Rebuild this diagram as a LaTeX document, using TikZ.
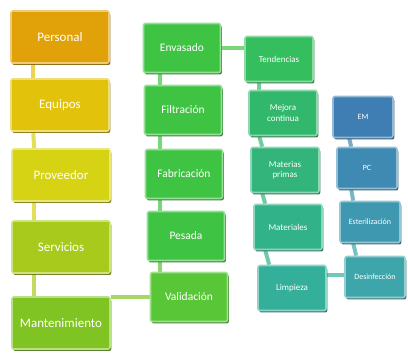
\documentclass[tikz,border=0pt]{standalone}
\usepackage{fontspec}
\setmainfont{Carlito}
\usetikzlibrary{positioning, calc, backgrounds, shadows}
\definecolor{cpersonal}{HTML}{E0A208}
\definecolor{cequipos}{HTML}{E2C20A}
\definecolor{cproveedor}{HTML}{D6D214}
\definecolor{cservicios}{HTML}{A8CA1C}
\definecolor{cmanten}{HTML}{80C424}
\definecolor{cgreen}{HTML}{3EC442}
\definecolor{cvalid}{HTML}{58C636}
\definecolor{cteal}{HTML}{34BE5E}
\definecolor{cmejora}{HTML}{32B86C}
\definecolor{cmaterias}{HTML}{32B47A}
\definecolor{cmateriales}{HTML}{32B288}
\definecolor{climpieza}{HTML}{34B09A}
\definecolor{cem}{HTML}{3E7EB2}
\definecolor{cpc}{HTML}{3E8AB2}
\definecolor{cester}{HTML}{3E98B0}
\definecolor{cdesinf}{HTML}{3EA6AA}

\begin{document}
\begin{tikzpicture}[x=1pt, y=-1pt,
    box/.style={rectangle, rounded corners=2pt, fill=#1, draw=#1!55!white, line width=1.6pt, text=white, align=center, inner sep=1pt,
        drop shadow={shadow xshift=1.3pt, shadow yshift=-2pt, fill=#1!60!black, opacity=0.9}},
    colA/.style={minimum width=98pt, minimum height=52pt, font=\fontsize{13}{15}\selectfont},
    colB/.style={minimum width=77pt, minimum height=49pt, font=\fontsize{11.5}{13}\selectfont},
    colC/.style={minimum width=68pt, minimum height=45pt, font=\fontsize{9}{10.5}\selectfont},
    colD/.style={minimum width=60pt, minimum height=41pt, font=\fontsize{8}{9.5}\selectfont},
    link/.style={line width=4pt, color=#1!70!white}
]
\useasboundingbox (0,0) rectangle (408,358);

% First column
\node[box=cpersonal, colA] (personal) at (60,37) {Personal};
\node[box=cequipos, colA] (equipos) at (60,105) {Equipos};
\node[box=cproveedor, colA] (proveedor) at (61,175) {Proveedor};
\node[box=cservicios, colA] (servicios) at (61,247) {Servicios};
\node[box=cmanten, colA] (manten) at (61,323) {Mantenimiento};

% Second column
\node[box=cgreen, colB] (envasado) at (182,48) {Envasado};
\node[box=cgreen, colB] (filtracion) at (183,110) {Filtración};
\node[box=cgreen, colB] (fabricacion) at (184,174) {Fabricación};
\node[box=cgreen, colB] (pesada) at (186,236) {Pesada};
\node[box=cvalid, colB] (validacion) at (189,297) {Validación};

% Third column
\node[box=cteal, colC] (tendencias) at (279,59) {Tendencias};
\node[box=cmejora, colC] (mejora) at (283,113) {Mejora\\continua};
\node[box=cmaterias, colC] (materias) at (285,170) {Materias\\primas};
\node[box=cmateriales, colC] (materiales) at (288,227) {Materiales};
\node[box=climpieza, colC] (limpieza) at (292,288) {Limpieza};

% Fourth column
\node[box=cem, colD] (em) at (363,117) {EM};
\node[box=cpc, colD] (pc) at (367,168) {PC};
\node[box=cester, colD] (ester) at (370,222) {Esterilización};
\node[box=cdesinf, colD] (desinf) at (375,277) {Desinfección};

% Links
\begin{scope}[on background layer]
\draw[link=cequipos] ([xshift=23pt]personal.south west) -- ([xshift=23pt]equipos.north west);
\draw[link=cproveedor] ([xshift=23pt]equipos.south west) -- ([xshift=23pt]proveedor.north west);
\draw[link=cproveedor] ([xshift=23pt]proveedor.south west) -- ([xshift=23pt]servicios.north west);
\draw[link=cservicios] ([xshift=23pt]servicios.south west) -- ([xshift=23pt]manten.north west);
\draw[link=cmanten] (validacion.west -| manten.east) -- (validacion.west);

\draw[link=cgreen] ([xshift=17pt]envasado.south west) -- ([xshift=16pt]filtracion.north west);
\draw[link=cgreen] ([xshift=16pt]filtracion.south west) -- ([xshift=15pt]fabricacion.north west);
\draw[link=cgreen] ([xshift=15pt]fabricacion.south west) -- ([xshift=13pt]pesada.north west);
\draw[link=cvalid] ([xshift=13pt]pesada.south west) -- ([xshift=10pt]validacion.north west);
\draw[link=cgreen] (envasado.east) -- (tendencias.west |- envasado.east);

\draw[link=cteal] ([xshift=15pt]tendencias.south west) -- ([xshift=11pt]mejora.north west);
\draw[link=cmejora] ([xshift=11pt]mejora.south west) -- ([xshift=12pt]materias.north west);
\draw[link=cmaterias] ([xshift=12pt]materias.south west) -- ([xshift=12pt]materiales.north west);
\draw[link=cmateriales] ([xshift=12pt]materiales.south west) -- ([xshift=12pt]limpieza.north west);
\draw[link=climpieza] ([yshift=-10pt]limpieza.north east) -- ([yshift=-10pt]limpieza.north east -| desinf.west);

\draw[link=cpc] ([xshift=17pt]em.south west) -- ([xshift=15pt]pc.north west);
\draw[link=cester] ([xshift=15pt]pc.south west) -- ([xshift=14pt]ester.north west);
\draw[link=cdesinf] ([xshift=14pt]ester.south west) -- ([xshift=12pt]desinf.north west);
\end{scope}

\end{tikzpicture}
\end{document}
